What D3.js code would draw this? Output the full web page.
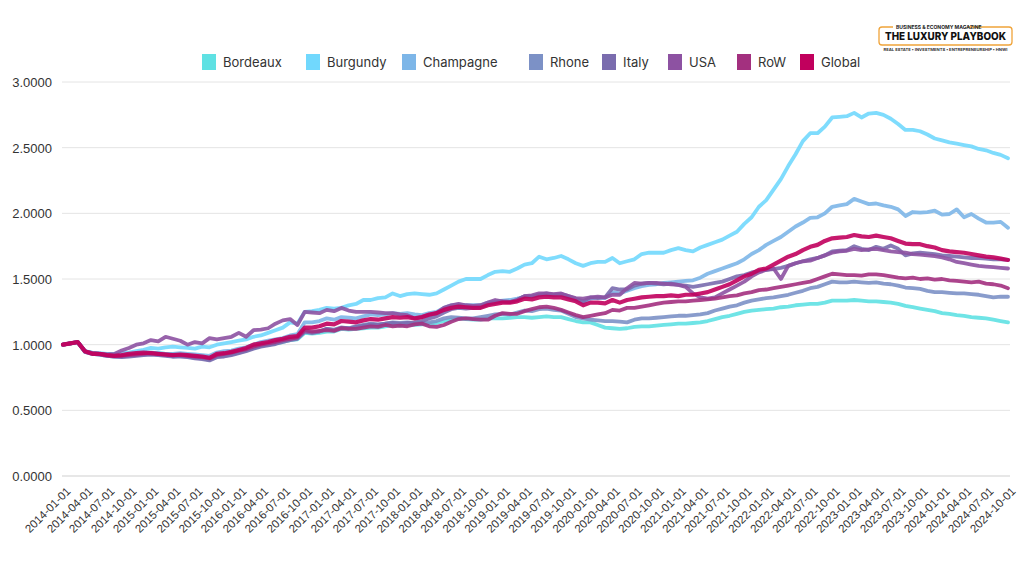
<!DOCTYPE html>
<html>
<head>
<meta charset="utf-8">
<script src="https://cdn.jsdelivr.net/npm/d3@7"></script>
<style>
  html, body { margin: 0; padding: 0; background: #ffffff; }
  svg { display: block; font-family: Inter, "Open Sans", sans-serif; }
</style>
</head>
<body>
<svg id="chart" width="1024" height="576"></svg>
<script>
// ---------------- DATA ----------------
const startMonth = "2014-01-01";
const monthCount = 130; // 2014-01 .. 2024-10 monthly

const xTickLabels = [
  "2014-01-01","2014-04-01","2014-07-01","2014-10-01",
  "2015-01-01","2015-04-01","2015-07-01","2015-10-01",
  "2016-01-01","2016-04-01","2016-07-01","2016-10-01",
  "2017-01-01","2017-04-01","2017-07-01","2017-10-01",
  "2018-01-01","2018-04-01","2018-07-01","2018-10-01",
  "2019-01-01","2019-04-01","2019-07-01","2019-10-01",
  "2020-01-01","2020-04-01","2020-07-01","2020-10-01",
  "2021-01-01","2021-04-01","2021-07-01","2021-10-01",
  "2022-01-01","2022-04-01","2022-07-01","2022-10-01",
  "2023-01-01","2023-04-01","2023-07-01","2023-10-01",
  "2024-01-01","2024-04-01","2024-07-01","2024-10-01"
];

const yTicks = [0, 0.5, 1.0, 1.5, 2.0, 2.5, 3.0];

const seriesNames = ["Bordeaux","Burgundy","Champagne","Rhone","Italy","USA","RoW","Global"];

const bordeaux = [
  1.00,1.01,1.02,0.95,0.935,0.93,0.925,0.92,0.92,0.925,0.93,0.935,
  0.94,0.935,0.93,0.925,0.925,0.92,0.915,0.91,0.90,0.92,0.93,0.935,
  0.945,0.955,0.975,0.99,1.00,1.01,1.02,1.035,1.04,1.09,1.085,1.09,
  1.10,1.10,1.12,1.115,1.12,1.125,1.13,1.13,1.14,1.15,1.145,1.15,
  1.15,1.155,1.16,1.165,1.18,1.19,1.20,1.195,1.19,1.19,1.20,1.20,
  1.20,1.205,1.21,1.21,1.205,1.21,1.215,1.21,1.21,1.195,1.18,1.17,
  1.17,1.15,1.13,1.125,1.12,1.125,1.135,1.14,1.14,1.145,1.15,1.155,
  1.16,1.16,1.165,1.17,1.18,1.195,1.21,1.22,1.235,1.25,1.26,1.265,
  1.27,1.275,1.285,1.29,1.30,1.305,1.31,1.31,1.32,1.335,1.335,1.335,
  1.34,1.335,1.33,1.33,1.325,1.32,1.31,1.295,1.285,1.275,1.265,1.255,
  1.24,1.235,1.225,1.22,1.21,1.205,1.20,1.19,1.18,1.17
];

const burgundy = [
  1.00,1.01,1.02,0.95,0.94,0.935,0.93,0.93,0.935,0.94,0.95,0.96,
  0.975,0.97,0.98,0.985,0.98,0.975,0.97,0.985,0.98,1.00,1.01,1.02,
  1.03,1.04,1.06,1.07,1.09,1.11,1.13,1.17,1.16,1.25,1.255,1.265,
  1.28,1.275,1.28,1.30,1.31,1.34,1.34,1.355,1.36,1.39,1.37,1.385,
  1.39,1.385,1.38,1.39,1.42,1.45,1.48,1.50,1.50,1.50,1.53,1.555,
  1.56,1.555,1.58,1.61,1.62,1.67,1.65,1.66,1.675,1.65,1.62,1.60,
  1.62,1.63,1.63,1.66,1.62,1.635,1.65,1.69,1.70,1.70,1.70,1.72,
  1.735,1.72,1.71,1.74,1.76,1.78,1.80,1.83,1.86,1.92,1.97,2.05,
  2.10,2.18,2.26,2.36,2.45,2.55,2.61,2.61,2.66,2.73,2.735,2.74,
  2.765,2.73,2.76,2.765,2.75,2.72,2.68,2.635,2.635,2.625,2.60,2.57,
  2.555,2.54,2.53,2.52,2.51,2.49,2.48,2.46,2.445,2.42
];

const champagne = [
  1.00,1.01,1.02,0.95,0.935,0.93,0.925,0.92,0.92,0.925,0.93,0.935,
  0.94,0.935,0.93,0.93,0.935,0.93,0.925,0.92,0.915,0.94,0.95,0.955,
  0.97,0.98,1.00,1.02,1.03,1.04,1.05,1.07,1.08,1.17,1.17,1.18,
  1.20,1.19,1.21,1.205,1.20,1.215,1.23,1.225,1.23,1.24,1.235,1.24,
  1.23,1.225,1.24,1.25,1.28,1.30,1.305,1.30,1.30,1.30,1.32,1.33,
  1.335,1.34,1.35,1.365,1.37,1.38,1.38,1.375,1.38,1.36,1.34,1.32,
  1.35,1.36,1.355,1.40,1.39,1.41,1.43,1.445,1.455,1.46,1.47,1.475,
  1.48,1.485,1.49,1.51,1.54,1.56,1.58,1.60,1.62,1.65,1.69,1.72,
  1.76,1.79,1.82,1.86,1.90,1.93,1.965,1.97,2.00,2.05,2.06,2.07,
  2.11,2.09,2.07,2.075,2.06,2.05,2.03,1.98,2.01,2.005,2.01,2.02,
  1.99,1.995,2.03,1.97,1.995,1.96,1.93,1.93,1.935,1.89
];

const rhone = [
  1.00,1.01,1.02,0.945,0.93,0.925,0.915,0.91,0.91,0.915,0.92,0.925,
  0.93,0.925,0.92,0.91,0.915,0.91,0.90,0.895,0.885,0.91,0.915,0.925,
  0.94,0.955,0.975,0.99,1.00,1.01,1.03,1.04,1.05,1.10,1.09,1.10,
  1.12,1.115,1.13,1.125,1.14,1.15,1.16,1.155,1.16,1.17,1.165,1.17,
  1.16,1.165,1.17,1.18,1.20,1.21,1.205,1.20,1.20,1.21,1.22,1.23,
  1.235,1.23,1.245,1.26,1.255,1.27,1.275,1.265,1.26,1.235,1.21,1.20,
  1.19,1.185,1.18,1.18,1.175,1.17,1.19,1.20,1.20,1.205,1.21,1.215,
  1.22,1.22,1.225,1.23,1.24,1.26,1.275,1.29,1.30,1.32,1.335,1.345,
  1.355,1.36,1.37,1.38,1.395,1.41,1.43,1.44,1.46,1.48,1.475,1.475,
  1.48,1.475,1.47,1.475,1.465,1.46,1.45,1.435,1.43,1.425,1.41,1.40,
  1.40,1.395,1.39,1.39,1.385,1.38,1.37,1.36,1.365,1.365
];

const italy = [
  1.00,1.01,1.02,0.945,0.93,0.925,0.915,0.91,0.905,0.91,0.915,0.92,
  0.925,0.92,0.915,0.91,0.91,0.905,0.895,0.89,0.88,0.905,0.91,0.92,
  0.935,0.95,0.97,0.985,0.995,1.005,1.02,1.035,1.045,1.10,1.09,1.10,
  1.12,1.11,1.13,1.125,1.135,1.145,1.155,1.15,1.16,1.165,1.16,1.165,
  1.17,1.18,1.20,1.215,1.245,1.27,1.28,1.275,1.28,1.285,1.31,1.32,
  1.33,1.325,1.34,1.37,1.365,1.38,1.39,1.38,1.385,1.37,1.35,1.33,
  1.36,1.355,1.36,1.43,1.42,1.42,1.45,1.465,1.47,1.465,1.46,1.465,
  1.455,1.45,1.44,1.45,1.46,1.47,1.48,1.50,1.52,1.53,1.55,1.56,
  1.57,1.575,1.585,1.60,1.62,1.635,1.65,1.66,1.68,1.71,1.715,1.72,
  1.75,1.73,1.72,1.745,1.73,1.755,1.73,1.68,1.695,1.70,1.695,1.69,
  1.68,1.675,1.67,1.665,1.66,1.66,1.655,1.65,1.65,1.645
];

const usa = [
  1.00,1.01,1.02,0.95,0.935,0.93,0.925,0.93,0.955,0.975,1.00,1.01,
  1.035,1.025,1.06,1.045,1.03,1.00,1.02,1.01,1.05,1.04,1.05,1.06,
  1.09,1.06,1.11,1.115,1.125,1.16,1.185,1.195,1.15,1.25,1.245,1.24,
  1.265,1.255,1.28,1.26,1.25,1.25,1.25,1.245,1.24,1.24,1.23,1.225,
  1.20,1.21,1.225,1.24,1.28,1.30,1.31,1.30,1.295,1.30,1.32,1.34,
  1.33,1.325,1.34,1.37,1.375,1.39,1.39,1.385,1.39,1.37,1.355,1.35,
  1.36,1.365,1.36,1.38,1.38,1.43,1.47,1.465,1.47,1.47,1.465,1.46,
  1.455,1.44,1.39,1.36,1.35,1.36,1.39,1.42,1.45,1.48,1.52,1.55,
  1.57,1.58,1.50,1.60,1.62,1.635,1.64,1.66,1.68,1.70,1.71,1.715,
  1.73,1.72,1.725,1.73,1.72,1.71,1.705,1.70,1.69,1.685,1.68,1.675,
  1.665,1.65,1.63,1.62,1.61,1.60,1.595,1.59,1.585,1.58
];

const row = [
  1.00,1.01,1.02,0.95,0.935,0.93,0.92,0.915,0.915,0.92,0.925,0.93,
  0.935,0.93,0.925,0.92,0.92,0.915,0.91,0.905,0.895,0.92,0.93,0.94,
  0.955,0.965,0.985,1.00,1.01,1.02,1.035,1.045,1.055,1.11,1.10,1.105,
  1.11,1.105,1.125,1.12,1.12,1.13,1.14,1.135,1.15,1.14,1.145,1.14,
  1.155,1.16,1.14,1.135,1.15,1.175,1.195,1.20,1.195,1.19,1.19,1.22,
  1.24,1.235,1.235,1.255,1.27,1.285,1.29,1.28,1.265,1.245,1.225,1.21,
  1.22,1.23,1.24,1.265,1.26,1.28,1.28,1.29,1.30,1.31,1.32,1.325,
  1.33,1.33,1.335,1.34,1.345,1.35,1.36,1.37,1.375,1.39,1.40,1.415,
  1.42,1.43,1.44,1.45,1.46,1.47,1.48,1.50,1.52,1.54,1.535,1.53,
  1.53,1.525,1.535,1.535,1.53,1.52,1.51,1.505,1.51,1.50,1.505,1.495,
  1.50,1.49,1.485,1.48,1.475,1.48,1.465,1.46,1.45,1.43
];

const global = [
  1.00,1.01,1.02,0.95,0.93,0.93,0.92,0.915,0.92,0.93,0.935,0.94,
  0.935,0.93,0.925,0.92,0.925,0.92,0.915,0.91,0.90,0.93,0.935,0.945,
  0.96,0.975,1.00,1.01,1.02,1.035,1.045,1.06,1.065,1.13,1.13,1.14,
  1.16,1.155,1.18,1.175,1.17,1.185,1.195,1.19,1.20,1.21,1.205,1.21,
  1.20,1.21,1.23,1.24,1.265,1.28,1.29,1.285,1.28,1.28,1.30,1.31,
  1.32,1.32,1.33,1.35,1.345,1.36,1.365,1.36,1.36,1.345,1.33,1.30,
  1.32,1.32,1.315,1.34,1.32,1.34,1.35,1.36,1.365,1.37,1.37,1.375,
  1.37,1.38,1.38,1.39,1.40,1.42,1.44,1.46,1.49,1.52,1.54,1.57,
  1.58,1.61,1.64,1.67,1.69,1.72,1.745,1.76,1.79,1.81,1.815,1.82,
  1.835,1.825,1.82,1.83,1.82,1.81,1.79,1.77,1.765,1.765,1.75,1.74,
  1.72,1.71,1.705,1.70,1.69,1.68,1.67,1.665,1.655,1.645
];

const seriesValues = [bordeaux, burgundy, champagne, rhone, italy, usa, row, global];
const seriesColors = ["#5fe1e3","#71d8fd","#7db6e8","#7c91c6","#7a6cae","#8d52a2","#a3307f","#c1005d"];

// ---------------- CHART ----------------
const svg = d3.select("#chart");

const parse = d3.utcParse("%Y-%m-%d");
const fmt = d3.utcFormat("%Y-%m-%d");
const months = d3.utcMonth.range(parse(startMonth), d3.utcMonth.offset(parse(startMonth), monthCount)).map(fmt);

const x = d3.scalePoint().domain(months).range([63, 1008]);
const y = d3.scaleLinear().domain([0, 3]).range([476, 82]);

// gridlines
svg.append("g").selectAll("line").data(yTicks).join("line")
  .attr("x1", 62).attr("x2", 1010)
  .attr("y1", d => y(d)).attr("y2", d => y(d))
  .attr("stroke", d => d === 0 ? "#cfcfcf" : "#e4e4e4")
  .attr("stroke-width", 1);

// y axis
const yAxis = svg.append("g").attr("transform", "translate(52,0)")
  .call(d3.axisLeft(y).tickValues(yTicks).tickFormat(d3.format(".4f")).tickSize(0).tickPadding(0));
yAxis.select(".domain").remove();
yAxis.selectAll("text").attr("font-size", 13).attr("fill", "#333").attr("dy", "0.35em");

// x axis
const xAxis = svg.append("g").attr("transform", "translate(0,480)")
  .call(d3.axisBottom(x).tickValues(xTickLabels).tickSize(0).tickPadding(0));
xAxis.select(".domain").remove();
xAxis.selectAll("text")
  .attr("font-size", 11.5).attr("fill", "#333")
  .attr("text-anchor", "end")
  .attr("dy", "0.35em").attr("y", 0).attr("x", 0)
  .attr("transform", "translate(5,9) rotate(-45)");

// lines
const line = d3.line()
  .x((d, i) => x(months[i]))
  .y(d => y(d))
  .curve(d3.curveLinear);

svg.append("g").selectAll("path").data(seriesValues).join("path")
  .attr("d", d => line(d))
  .attr("fill", "none")
  .attr("stroke", (d, i) => seriesColors[i])
  .attr("stroke-width", (d, i) => i === 7 ? 4.2 : 3.8)
  .attr("stroke-linejoin", "round")
  .attr("stroke-linecap", "round")
  .attr("stroke-opacity", 0.9);

// legend
const legendX = [202, 306, 402, 529, 602, 668, 737, 800];
const lg = svg.append("g").selectAll("g").data(seriesNames).join("g")
  .attr("transform", (d, i) => `translate(${legendX[i]},62)`);
lg.append("rect").attr("x", 0).attr("y", -8).attr("width", 14).attr("height", 16)
  .attr("fill", (d, i) => seriesColors[i]);
lg.append("text").attr("x", 21).attr("y", 0).attr("dy", "0.35em")
  .attr("font-size", 13).attr("fill", "#333").text(d => d);

// logo
const logo = svg.append("g");
logo.append("path")
  .attr("d", "M893,27 L882,27 Q879,27 879,30 L879,42 Q879,45 882,45 L1009,45 Q1012,45 1012,42 L1012,30 Q1012,27 1009,27 L968,27")
  .attr("fill", "none").attr("stroke", "#f0a43a").attr("stroke-width", 1.3);
logo.append("text").attr("x", 896).attr("y", 29).attr("font-size", 5).attr("font-weight", 700)
  .attr("fill", "#222").text("BUSINESS & ECONOMY MAGAZINE");
logo.append("text").attr("x", 945.5).attr("y", 39.5).attr("text-anchor", "middle")
  .attr("font-size", 10.5).attr("font-weight", 800).attr("fill", "#111")
  .attr("textLength", 121).attr("lengthAdjust", "spacingAndGlyphs")
  .text("THE LUXURY PLAYBOOK");
logo.append("text").attr("x", 945.5).attr("y", 51).attr("text-anchor", "middle")
  .attr("font-size", 4).attr("font-weight", 700).attr("fill", "#333")
  .attr("textLength", 124).attr("lengthAdjust", "spacingAndGlyphs")
  .text("REAL ESTATE • INVESTMENTS • ENTREPRENEURSHIP • HNWI");
</script>
</body>
</html>
